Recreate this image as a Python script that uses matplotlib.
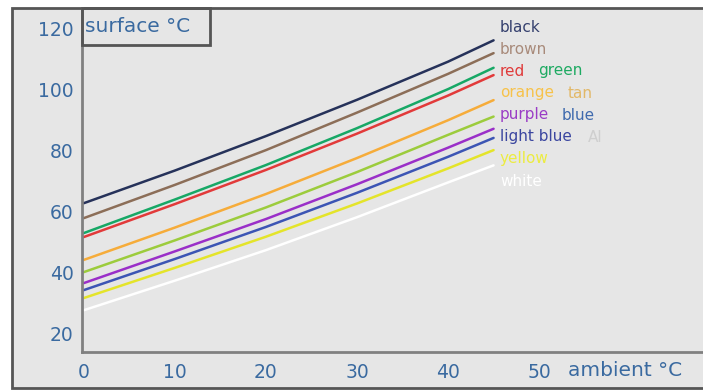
import matplotlib
matplotlib.use("Agg")
import matplotlib.pyplot as plt
from matplotlib.patches import Rectangle

# ambient temperature (deg C) and surface temperature per colour
ambient = [0, 10, 20, 30, 40, 45]
black = [62.6, 73.3, 84.6, 96.5, 109.0, 116.0]
brown = [57.7, 68.6, 80.0, 92.3, 105.0, 111.8]
green = [52.8, 63.8, 75.1, 87.2, 100.0, 107.0]
red = [51.5, 62.3, 73.5, 85.4, 97.9, 104.6]
orange = [44.0, 54.6, 65.6, 77.4, 89.8, 96.4]
yellowgreen = [40.0, 50.4, 61.2, 72.8, 85.0, 91.0]
purple = [36.4, 46.8, 57.4, 68.8, 80.8, 87.0]
blue = [34.1, 44.3, 54.8, 66.0, 77.8, 84.0]
yellow = [31.5, 41.4, 51.6, 62.5, 74.0, 80.0]
white = [27.5, 37.2, 47.2, 58.0, 69.4, 75.0]

series = [black, brown, green, red, orange, yellowgreen, purple, blue, yellow, white]
line_colors = ["#26325a", "#8c6e58", "#17a866", "#e23a3a", "#f6ac3a",
               "#9ccc3c", "#9a2fc8", "#3c55b4", "#e4e42a", "#ffffff"]

# legend rows: (label, colour, x offset in px)
legend_rows = [
    [("black", "#35406e", 0)],
    [("brown", "#a88a7a", 0)],
    [("red", "#e03a3a", 0), ("green", "#1eaa62", 38)],
    [("orange", "#f7c24a", 0), ("tan", "#e2b868", 68)],
    [("purple", "#9a3cc6", 0), ("blue", "#3f6aae", 62)],
    [("light blue", "#3b46a0", 0), ("Al", "#cfcfcf", 88)],
    [("yellow", "#ecec40", 0)],
    [("white", "#ffffff", 0)],
]

W, H = 703, 392
fig = plt.figure(figsize=(W / 100, H / 100), dpi=100)
fig.patch.set_facecolor("white")

bg = "#e6e6e6"
frame = "#555555"
tick_blue = "#3a6aa0"

# outer panel
fig.patches.append(Rectangle((12 / W, 1 - 388 / H), 1, (388 - 8) / H,
                             transform=fig.transFigure, facecolor=bg,
                             edgecolor=frame, linewidth=2, zorder=-5))

ax = fig.add_axes([82 / W, (H - 352) / H, 1 - 82 / W, (352 - 8) / H])
ax.set_zorder(2)
ax.patch.set_alpha(0)

for ys, c in zip(series, line_colors):
    ax.plot(ambient, ys, color=c, linewidth=1.8, solid_capstyle="round")

ax.set_xlim(-0.2, 68)
ax.set_ylim(13.8, 126.6)
ax.set_xticks([0, 10, 20, 30, 40, 50])
ax.set_yticks([20, 40, 60, 80, 100, 120])
ax.tick_params(length=0, labelsize=13.5, labelcolor=tick_blue)
ax.tick_params(axis="x", pad=8)
ax.tick_params(axis="y", pad=6)
for s in ["top", "right"]:
    ax.spines[s].set_visible(False)
for s in ["left", "bottom"]:
    ax.spines[s].set_color("#808080")
    ax.spines[s].set_linewidth(2)

# y label box
fig.patches.append(Rectangle((82 / W, 1 - 45 / H), (210 - 82) / W, (45 - 8) / H,
                             transform=fig.transFigure, facecolor="none",
                             edgecolor=frame, linewidth=2, zorder=5))
fig.text(85 / W, 1 - 27 / H, "surface °C", color=tick_blue, fontsize=14.5,
         va="center", ha="left")
fig.text(568 / W, 1 - 371 / H, "ambient °C", color=tick_blue, fontsize=14.5,
         va="center", ha="left")

# colour labels
for i, row in enumerate(legend_rows):
    y = 27 + i * 22
    for label, c, dx in row:
        fig.text((500 + dx) / W, 1 - y / H, label, color=c, fontsize=11,
                 va="center", ha="left")

fig.savefig("out.png", dpi=100)
